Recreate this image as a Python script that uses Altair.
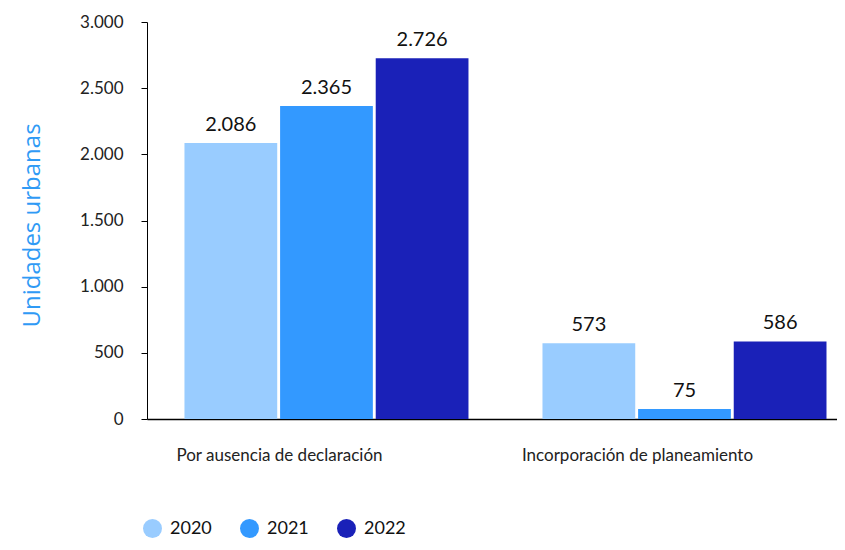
import altair as alt
import pandas as pd

categories = ["Por ausencia de declaración", "Incorporación de planeamiento"]
years = ["2020", "2021", "2022"]
values_2020 = [2086, 573]
values_2021 = [2365, 75]
values_2022 = [2726, 586]
colors = ["#99ccff", "#3399ff", "#1a21b8"]
y_ticks = [0, 500, 1000, 1500, 2000, 2500, 3000]

rows = []
for i, cat in enumerate(categories):
    for yr, vals in zip(years, [values_2020, values_2021, values_2022]):
        v = vals[i]
        rows.append({"cat": cat, "year": yr, "value": v,
                     "label": f"{v:,}".replace(",", ".")})
df = pd.DataFrame(rows)

FONT = "Lato"

x = alt.X("cat:N", sort=categories, title=None,
          scale=alt.Scale(paddingInner=0.2067, paddingOuter=0.067, align=0.781),
          axis=alt.Axis(labelAngle=0, labelFontSize=17, labelFont=FONT, labelColor="#222222",
                        labelLimit=0, labelOffset=-47,
                        ticks=False, labelPadding=28, domainColor="#000000", domainWidth=1.5))
xo = alt.XOffset("year:N", sort=years, scale=alt.Scale(paddingInner=0.03, paddingOuter=0))
y = alt.Y("value:Q", scale=alt.Scale(domain=[0, 3000], nice=False),
          axis=alt.Axis(values=y_ticks, format=",.0f", labelExpr="replace(datum.label, ',', '.')",
                        grid=False, tickSize=6, tickColor="#000000", labelPadding=18,
                        labelFontSize=17, labelFont=FONT, labelColor="#222222",
                        domainColor="#000000", title="Unidades urbanas",
                        titleColor="#2f9af5", titleFontSize=24, titleFont="Open Sans",
                        titleFontWeight="normal", titleX=-108, titleY=203,
                        titleAlign="center",
                        titleBaseline="alphabetic", titleAngle=-90))

color = alt.Color("year:N", sort=years, scale=alt.Scale(domain=years, range=colors),
                  legend=alt.Legend(title=None, orient="none", legendX=-4, legendY=497,
                                    direction="horizontal", symbolType="circle",
                                    symbolSize=361, symbolStrokeWidth=0, symbolOpacity=1,
                                    labelFontSize=18, labelFont=FONT, labelColor="#111111",
                                    labelOffset=8, columnPadding=28))

bars = alt.Chart(df).mark_bar(opacity=1).encode(x=x, xOffset=xo, y=y, color=color)
text = alt.Chart(df).mark_text(dy=-12, baseline="alphabetic", fontSize=20, font=FONT,
                               color="#111111").encode(
    x=x, xOffset=xo, y=y, text="label:N")

chart = (bars + text).properties(
    width=690, height=397,
    autosize=alt.AutoSizeParams(type="none"),
    padding={"left": 139, "top": 14, "right": 0, "bottom": 123},
).configure_view(stroke=None)

chart.save("out.html", embed_options={"renderer": "svg", "actions": False})
